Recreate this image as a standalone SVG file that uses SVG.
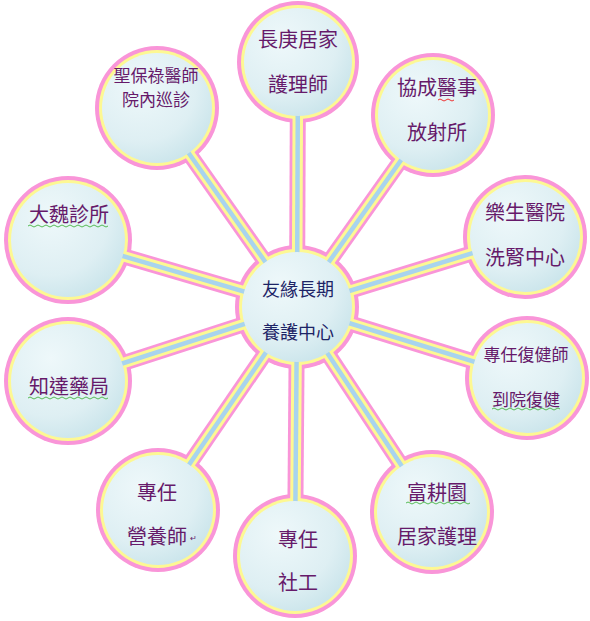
<svg xmlns="http://www.w3.org/2000/svg" width="590" height="621" viewBox="0 0 590 621">
<defs>
<radialGradient id="fillG" cx="0.35" cy="0.3" r="0.85">
<stop offset="0" stop-color="#eef8fa"/>
<stop offset="0.6" stop-color="#deeff3"/>
<stop offset="1" stop-color="#c3e1e8"/>
</radialGradient>
<filter id="soft" x="-10%" y="-10%" width="120%" height="120%"><feGaussianBlur stdDeviation="0.6"/></filter>
</defs>
<style>
.lp{stroke:#f995d8;stroke-width:16;fill:none}
.ly{stroke:#fdf893;stroke-width:10.5;fill:none}
.lb{stroke:#a8d4ee;stroke-width:4.5;fill:none}
.cp{fill:#f995d8}
.cy{fill:#fdf893}
.cf{fill:url(#fillG)}
.t{font-family:"Noto Sans CJK TC","Noto Sans CJK SC",sans-serif;fill:#661a6a;text-anchor:middle}
.tc{font-family:"Noto Sans CJK TC","Noto Sans CJK SC",sans-serif;fill:#1d2466;text-anchor:middle;font-size:18px}
.sq{fill:none;stroke-width:1}
</style>
<g id="connectors" filter="url(#soft)">
<g class="lp">
<line x1="297" y1="307" x2="298" y2="62"/><line x1="297" y1="307" x2="157" y2="108"/><line x1="297" y1="307" x2="433" y2="115"/><line x1="297" y1="307" x2="68" y2="240"/><line x1="297" y1="307" x2="525" y2="237"/><line x1="297" y1="307" x2="68" y2="381"/><line x1="297" y1="307" x2="527" y2="378"/><line x1="297" y1="307" x2="158" y2="510"/><line x1="297" y1="307" x2="295" y2="556"/><line x1="297" y1="307" x2="432" y2="512"/>
</g>
<g class="cp">
<circle cx="297" cy="307" r="62"/><circle cx="298" cy="62" r="61"/><circle cx="157" cy="108" r="62"/><circle cx="433" cy="115" r="62"/><circle cx="68" cy="240" r="64"/><circle cx="525" cy="237" r="62"/><circle cx="68" cy="381" r="64"/><circle cx="527" cy="378" r="62"/><circle cx="158" cy="510" r="62"/><circle cx="295" cy="556" r="62"/><circle cx="432" cy="512" r="62"/>
</g>
<g class="ly">
<line x1="297" y1="307" x2="298" y2="62"/><line x1="297" y1="307" x2="157" y2="108"/><line x1="297" y1="307" x2="433" y2="115"/><line x1="297" y1="307" x2="68" y2="240"/><line x1="297" y1="307" x2="525" y2="237"/><line x1="297" y1="307" x2="68" y2="381"/><line x1="297" y1="307" x2="527" y2="378"/><line x1="297" y1="307" x2="158" y2="510"/><line x1="297" y1="307" x2="295" y2="556"/><line x1="297" y1="307" x2="432" y2="512"/>
</g>
<g class="cy">
<circle cx="297" cy="307" r="58"/><circle cx="298" cy="62" r="57"/><circle cx="157" cy="108" r="58"/><circle cx="433" cy="115" r="58"/><circle cx="68" cy="240" r="60"/><circle cx="525" cy="237" r="58"/><circle cx="68" cy="381" r="60"/><circle cx="527" cy="378" r="58"/><circle cx="158" cy="510" r="58"/><circle cx="295" cy="556" r="58"/><circle cx="432" cy="512" r="58"/>
</g>
<g class="lb">
<line x1="297" y1="307" x2="298" y2="62"/><line x1="297" y1="307" x2="157" y2="108"/><line x1="297" y1="307" x2="433" y2="115"/><line x1="297" y1="307" x2="68" y2="240"/><line x1="297" y1="307" x2="525" y2="237"/><line x1="297" y1="307" x2="68" y2="381"/><line x1="297" y1="307" x2="527" y2="378"/><line x1="297" y1="307" x2="158" y2="510"/><line x1="297" y1="307" x2="295" y2="556"/><line x1="297" y1="307" x2="432" y2="512"/>
</g>
</g>
<g id="center"><circle class="cf" cx="297" cy="307" r="55"/><text class="tc" x="298" y="296">友緣長期</text><text class="tc" x="298" y="339">養護中心</text></g>
<g id="n1"><circle class="cf" cx="298" cy="62" r="54"/><text class="t" font-size="20" x="298" y="47">長庚居家</text><text class="t" font-size="20" x="298" y="92">護理師</text></g>
<g id="n2"><circle class="cf" cx="157" cy="108" r="55"/><text class="t" font-size="17" x="156" y="82">聖保祿醫師</text><text class="t" font-size="17" x="156" y="106">院內巡診</text></g>
<g id="n3"><circle class="cf" cx="433" cy="115" r="55"/><text class="t" font-size="20" x="437" y="95">協成醫事</text><text class="t" font-size="20" x="437" y="140">放射所</text><path class="sq" stroke="#e33" d="M438 100 q2 -2 4 0 q2 2 4 0 q2 -2 4 0 q2 2 4 0"/></g>
<g id="n4"><circle class="cf" cx="68" cy="240" r="57"/><text class="t" font-size="20" x="69" y="222">大魏診所</text><path class="sq" stroke="#5b5" d="M28 226 q2 -2 4 0 q2 2 4 0 q2 -2 4 0 q2 2 4 0 q2 -2 4 0 q2 2 4 0 q2 -2 4 0 q2 2 4 0 q2 -2 4 0 q2 2 4 0 q2 -2 4 0 q2 2 4 0 q2 -2 4 0 q2 2 4 0 q2 -2 4 0 q2 2 4 0 q2 -2 4 0 q2 2 4 0 q2 -2 4 0 q2 2 4 0"/></g>
<g id="n5"><circle class="cf" cx="525" cy="237" r="55"/><text class="t" font-size="20" x="525" y="220">樂生醫院</text><text class="t" font-size="20" x="525" y="265">洗腎中心</text></g>
<g id="n6"><circle class="cf" cx="68" cy="381" r="57"/><text class="t" font-size="20" x="69" y="394">知達藥局</text><path class="sq" stroke="#5b5" d="M28 398 q2 -2 4 0 q2 2 4 0 q2 -2 4 0 q2 2 4 0 q2 -2 4 0 q2 2 4 0 q2 -2 4 0 q2 2 4 0 q2 -2 4 0 q2 2 4 0 q2 -2 4 0 q2 2 4 0 q2 -2 4 0 q2 2 4 0 q2 -2 4 0 q2 2 4 0 q2 -2 4 0 q2 2 4 0 q2 -2 4 0 q2 2 4 0"/></g>
<g id="n7"><circle class="cf" cx="527" cy="378" r="55"/><text class="t" font-size="17" x="526" y="361">專任復健師</text><text class="t" font-size="17" x="526" y="406">到院復健</text><path class="sq" stroke="#5b5" d="M492 409 q2 -2 4 0 q2 2 4 0 q2 -2 4 0 q2 2 4 0 q2 -2 4 0 q2 2 4 0 q2 -2 4 0 q2 2 4 0 q2 -2 4 0 q2 2 4 0 q2 -2 4 0 q2 2 4 0 q2 -2 4 0 q2 2 4 0 q2 -2 4 0 q2 2 4 0 q2 -2 4 0"/></g>
<g id="n8"><circle class="cf" cx="158" cy="510" r="55"/><text class="t" font-size="20" x="157" y="500">專任</text><text class="t" font-size="20" x="157" y="544">營養師</text><text class="t" font-size="8" x="193" y="541">↵</text></g>
<g id="n9"><circle class="cf" cx="295" cy="556" r="55"/><text class="t" font-size="20" x="298" y="547">專任</text><text class="t" font-size="20" x="298" y="590">社工</text></g>
<g id="n10"><circle class="cf" cx="432" cy="512" r="55"/><text class="t" font-size="20" x="437" y="500">富耕園</text><text class="t" font-size="20" x="437" y="544">居家護理</text><path class="sq" stroke="#5b5" d="M406 503 q2 -2 4 0 q2 2 4 0 q2 -2 4 0 q2 2 4 0 q2 -2 4 0 q2 2 4 0 q2 -2 4 0 q2 2 4 0 q2 -2 4 0 q2 2 4 0 q2 -2 4 0 q2 2 4 0 q2 -2 4 0 q2 2 4 0 q2 -2 4 0 q2 2 4 0"/></g>
</svg>
